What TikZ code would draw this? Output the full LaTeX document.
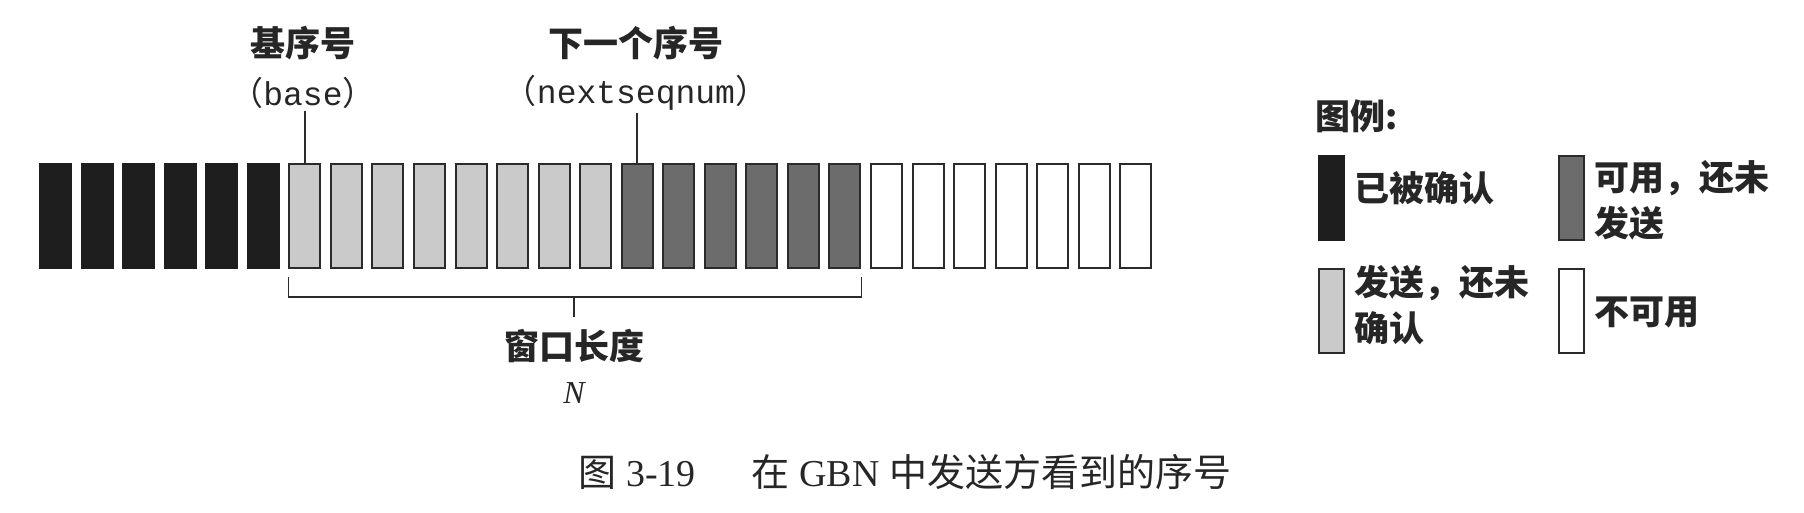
\documentclass[tikz,border=0pt]{standalone}
\usepackage{fontspec}
\setmainfont{Liberation Serif}
\setmonofont{Liberation Mono}
\newfontfamily\cjk{Noto Sans CJK SC}
\usetikzlibrary{positioning}
\definecolor{ackfill}{HTML}{1E1E1E}
\definecolor{sentfill}{HTML}{CACACA}
\definecolor{usefill}{HTML}{6C6C6C}
\definecolor{edge}{HTML}{2B2B2B}

\begin{document}
\begin{tikzpicture}[x=1pt,y=-1pt,
    seqbox/.style={draw=edge,line width=2pt,minimum width=31pt,minimum height=104pt,
      inner sep=0pt,anchor=north west},
    keybox/.style={seqbox,minimum width=25pt,minimum height=84pt},
    lbl/.style={font=\fontsize{35}{42}\selectfont\cjk\bfseries,text=black!85,inner sep=2pt},
    var/.style={font=\fontsize{33}{40}\selectfont\ttfamily,text=black!85,inner sep=2pt},
    keytext/.style={font=\fontsize{35}{46}\selectfont\cjk\bfseries,text=black!85,
      align=left,anchor=west,inner sep=0pt},
    conn/.style={draw=edge,line width=1.5pt}]
    \useasboundingbox (0,0) rectangle (1804,512);

    % sequence numbers
    \foreach \i in {0,...,5}
      \node[seqbox,fill=ackfill,draw=ackfill] (b\i) at ({39+41.55*\i},163) {};
    \foreach \i in {6,...,13}
      \node[seqbox,fill=sentfill] (b\i) at ({39+41.55*\i},163) {};
    \foreach \i in {14,...,19}
      \node[seqbox,fill=usefill] (b\i) at ({39+41.55*\i},163) {};
    \foreach \i in {20,...,26}
      \node[seqbox,fill=white] (b\i) at ({39+41.55*\i},163) {};

    % pointers
    \node[lbl] (basename) at (303,43) {基序号};
    \node[var] (basevar) at (303,93) {{\cjk （}base{\cjk ）}};
    \node[lbl] (nextname) at (636,43) {下一个序号};
    \node[var] (nextvar) at (636,93) {{\cjk （}nextseqnum{\cjk ）}};
    \draw[conn] (basevar.south -| b6.north) -- (b6.north);
    \draw[conn] (nextvar.south -| b14.north) -- (b14.north);

    % window
    \node[lbl] (winlen) at (574,346) {窗口长度};
    \node[font=\fontsize{32}{38}\selectfont\itshape,text=black!85] (winN) at (574,393) {N};
    \coordinate (brace) at (574,297);
    \draw[conn] ([yshift=-8pt]b6.south west) |- (brace) -| ([yshift=-8pt]b19.south east);
    \draw[conn] (brace) -- ([yshift=10pt]winlen.north);

    % legend
    \node[lbl,anchor=west,inner sep=0pt] (keytitle) at (1315,116) {图例:};
    \node[keybox,fill=ackfill,draw=ackfill] (keyack) at (1318,155) {};
    \node[keybox,fill=usefill] (keyuse) at (1558,155) {};
    \node[keybox,fill=sentfill] (keysent) at (1318,268) {};
    \node[keybox,fill=white] (keyfree) at (1558,268) {};
    \node[keytext] (tack) at (1354,188) {已被确认};
    \node[keytext] (tuse) at (1594,200) {可用，还未\\发送};
    \node[keytext] (tsent) at (1354,305) {发送，还未\\确认};
    \node[keytext] (tfree) at (1594,312) {不可用};

    % caption
    \node[font=\fontsize{38}{44}\selectfont,text=black!85] (caption) at (905,472)
      {{\cjk 图}\ 3-19\hspace{56pt}{\cjk 在}\ GBN\ {\cjk 中发送方看到的序号}};
\end{tikzpicture}
\end{document}
